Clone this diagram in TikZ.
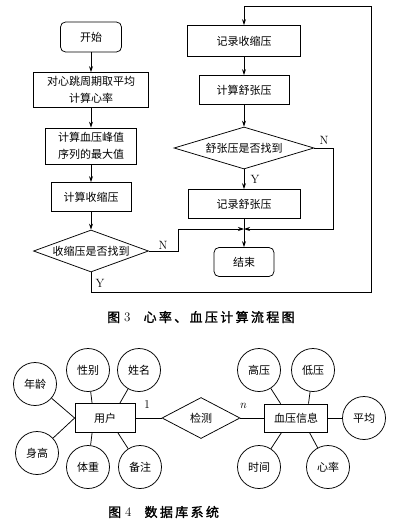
\documentclass[tikz,border=0pt]{standalone}
\usepackage{fontspec}
\newfontfamily\cjk{Noto Sans CJK SC}
\newfontfamily\capfont[FakeBold=1.5,LetterSpace=18]{Noto Sans CJK SC}
\usepackage{tikz}
\usetikzlibrary{shapes.geometric,arrows.meta,positioning}
\tikzset{
    % Base node style
    basenode/.style={
        draw=black,
        fill=white,
        line width=0.75pt,
        align=center,
        inner sep=1pt,
        font=\cjk\fontsize{11}{17}\selectfont
    },
    % Process box
    procnode/.style={
        basenode,
        minimum height=29pt
    },
    % Start and end
    termnode/.style={
        basenode,
        rounded corners=5pt,
        minimum width=61pt,
        minimum height=30pt
    },
    % Decision
    decnode/.style={
        basenode,
        diamond,
        aspect=2.7,
        inner sep=0pt,
        minimum height=42pt
    },
    % Entity box
    entnode/.style={
        basenode,
        minimum height=28pt
    },
    % Attribute circle
    attrnode/.style={
        basenode,
        circle,
        minimum size=43pt,
        inner sep=0pt
    },
    % Relation diamond
    relnode/.style={
        basenode,
        diamond,
        aspect=1.9,
        inner sep=0pt,
        minimum width=78pt,
        minimum height=41pt
    },
    % Small labels
    marknode/.style={
        font=\fontsize{12}{14}\selectfont,
        inner sep=1pt
    },
    % Caption
    capnode/.style={
        anchor=west,
        inner sep=0pt,
        font=\capfont\fontsize{13}{15}\selectfont
    },
    % Arrow styles
    myarrow/.style={
        -{Stealth[length=6pt,width=4pt]},
        line width=0.75pt,
        draw=black
    },
    myline/.style={
        line width=0.75pt,
        draw=black
    }
}

\begin{document}
\begin{tikzpicture}[x=1pt, y=-1pt]
    \useasboundingbox (0,0) rectangle (400,532);

    % flow chart, left column
    \node[termnode] (start) at (91,37) {开始};
    \node[procnode, minimum width=115pt, minimum height=35pt] (avg) at (91,90) {对心跳周期取平均\\计算心率};
    \node[procnode, minimum width=91pt, minimum height=36pt] (peak) at (91,146) {计算血压峰值\\序列的最大值};
    \node[procnode, minimum width=80pt] (sys) at (91,197) {计算收缩压};
    \node[decnode, minimum width=115pt] (findsys) at (91,251) {收缩压是否找到};

    % flow chart, right column
    \node[procnode, minimum width=113pt, minimum height=31pt] (recsys) at (244,41) {记录收缩压};
    \node[procnode, minimum width=90pt] (dia) at (244,90) {计算舒张压};
    \node[decnode, minimum width=140pt] (finddia) at (244,148) {舒张压是否找到};
    \node[procnode, minimum width=112pt] (recdia) at (244,204) {记录舒张压};
    \node[termnode, minimum width=60pt, minimum height=29pt] (stop) at (244,262) {结束};

    \coordinate (merge) at (244,229);
    \coordinate (nbend) at (178,229);
    \coordinate (nright) at (333,148);
    \coordinate (loopbr) at (371,292);
    \coordinate (looptr) at (371,6);

    \draw[myarrow] (start) -- (avg);
    \draw[myarrow] (avg) -- (peak);
    \draw[myarrow] (peak) -- (sys);
    \draw[myarrow] (sys) -- (findsys);
    \draw[myarrow] (recsys) -- (dia);
    \draw[myarrow] (dia) -- (finddia);
    \draw[myarrow] (finddia) -- (recdia);
    \draw[myarrow] (recdia) -- (stop);
    \draw[myarrow] (findsys.east) -| (nbend) -- (merge);
    \draw[myarrow] (finddia.east) -- (nright) |- (merge);
    \draw[myarrow] (findsys.south) |- (loopbr) -- (looptr) -| (recsys.north);

    \node[marknode] (nsys) at (163,245) {N};
    \node[marknode] (ysys) at (100,283) {Y};
    \node[marknode] (ndia) at (324,140) {N};
    \node[marknode] (ydia) at (255,179) {Y};

    \node[capnode] (cap3) at (107,317) {图\hspace{4pt}{\bfseries\normalfont 3}\hspace{13pt}心率、血压计算流程图};

    % E-R diagram
    \node[entnode, minimum width=60pt, minimum height=29pt] (user) at (105,418) {用户};
    \node[relnode] (detect) at (201,418) {检测};
    \node[entnode, minimum width=63pt] (bp) at (296,418) {血压信息};

    \node[attrnode] (age) at (35,384) {年龄};
    \node[attrnode] (sex) at (88,370) {性别};
    \node[attrnode] (name) at (139,370) {姓名};
    \node[attrnode] (height) at (37,453) {身高};
    \node[attrnode] (weight) at (88,467) {体重};
    \node[attrnode] (note) at (140,467) {备注};

    \node[attrnode] (high) at (259,370) {高压};
    \node[attrnode] (low) at (313,370) {低压};
    \node[attrnode] (mean) at (364,418) {平均};
    \node[attrnode] (time) at (259,467) {时间};
    \node[attrnode] (rate) at (328,467) {心率};

    \draw[myline] (user.east) -- (detect.west);
    \draw[myline] (detect.east) -- (bp.west);
    \draw[myline] (user.west) -- (age);
    \draw[myline] (user.west) -- (height);
    \draw[myline] (user.131) -- (sex);
    \draw[myline] (user.45) -- (name);
    \draw[myline] (user.229) -- (weight);
    \draw[myline] (user.311) -- (note);
    \draw[myline] (bp.137) -- (high);
    \draw[myline] (bp.49) -- (low);
    \draw[myline] (bp.east) -- (mean);
    \draw[myline] (bp.225) -- (time);
    \draw[myline] (bp.313) -- (rate);

    \node[marknode] (one) at (147,405) {1};
    \node[marknode] (many) at (243,406) {\itshape n};

    \node[capnode] (cap4) at (108,512) {图\hspace{4pt}{\normalfont 4}\hspace{13pt}数据库系统};
\end{tikzpicture}
\end{document}
